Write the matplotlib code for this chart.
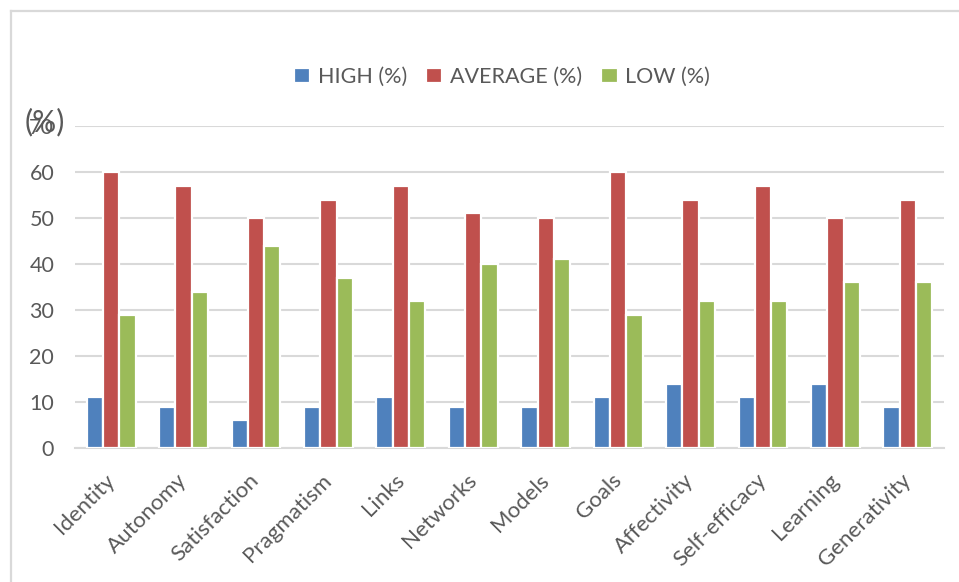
import matplotlib
matplotlib.use("Agg")
import matplotlib.pyplot as plt
import numpy as np
from matplotlib.lines import Line2D

plt.rcParams['font.family'] = ['Lato', 'DejaVu Sans']

categories = ["Identity", "Autonomy", "Satisfaction", "Pragmatism", "Links", "Networks",
              "Models", "Goals", "Affectivity", "Self-efficacy", "Learning", "Generativity"]
high = [11, 9, 6, 9, 11, 9, 9, 11, 14, 11, 14, 9]
average = [60, 57, 50, 54, 57, 51, 50, 60, 54, 57, 50, 54]
low = [29, 34, 44, 37, 32, 40, 41, 29, 32, 32, 36, 36]
series_names = ["HIGH (%)", "AVERAGE (%)", "LOW (%)"]
colors = ["#4F81BD", "#C0504D", "#9BBB59"]
yticks = [0, 10, 20, 30, 40, 50, 60, 70]

fig = plt.figure(figsize=(9.59, 5.82), dpi=100)
ax = fig.add_axes([75/959, 1-448/582, (944-75)/959, (448-126)/582])

x = np.arange(len(categories))
w = 0.225
for i, (vals, name, c) in enumerate(zip([high, average, low], series_names, colors)):
    ax.bar(x + (i-1)*w, vals, width=w, color=c, edgecolor='white', linewidth=1.6,
           label=name, zorder=3)

ax.set_xlim(-0.5, len(categories)-0.5)
ax.set_ylim(0, 70)
ax.set_yticks(yticks)
ax.set_yticklabels([str(t) for t in yticks], fontsize=15.5, color='#595959')
ax.yaxis.grid(True, color='#d9d9d9', linewidth=1.5, zorder=0)
ax.set_axisbelow(True)
for s in ['top', 'right', 'left']:
    ax.spines[s].set_visible(False)
ax.spines['bottom'].set_color('#d9d9d9')
ax.spines['bottom'].set_linewidth(1.5)
ax.tick_params(axis='y', length=0, pad=15)
ax.tick_params(axis='x', length=0, pad=21)
ax.set_xticks(x)
ax.set_xticklabels(categories, rotation=45, ha='right', va='center', rotation_mode='anchor',
                   fontsize=16, color='#595959')

fig.text(45/959, 1-122/582, "(%)", fontsize=21.5, color='#595959', ha='center', va='center')

fig.legend(loc='center', bbox_to_anchor=(502/959, 1-77/582), ncol=3, frameon=False,
           fontsize=15.5, handlelength=0.75, handleheight=0.75, handletextpad=0.35,
           columnspacing=0.9, labelcolor='#595959')

# outer border (left and top)
fig.add_artist(Line2D([11/959, 11/959], [0, 1-11/582], color='#d9d9d9', linewidth=1.6,
                      transform=fig.transFigure))
fig.add_artist(Line2D([11/959, 1], [1-11/582, 1-11/582], color='#d9d9d9', linewidth=1.6,
                      transform=fig.transFigure))

fig.savefig("out.png", dpi=100)
